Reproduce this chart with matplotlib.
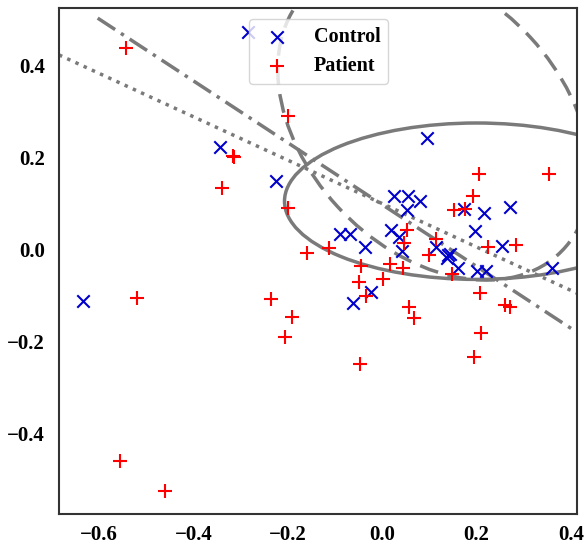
import numpy as np
import matplotlib
matplotlib.use("Agg")
import matplotlib.pyplot as plt
from matplotlib.patches import Ellipse

control_x = [-0.285, -0.344, -0.224, 0.094, -0.634, 0.026, 0.054, 0.080, 0.052, -0.090,
             -0.069, -0.037, 0.018, 0.035, 0.043, 0.115, 0.139, 0.143, 0.137, 0.160,
             0.200, 0.221, 0.173, 0.215, 0.270, 0.196, 0.255, 0.361, -0.024, -0.062]
control_y = [0.472, 0.222, 0.148, 0.241, -0.113, 0.115, 0.115, 0.104, 0.085, 0.033,
             0.033, 0.004, 0.041, 0.026, -0.004, 0.004, -0.013, -0.011, -0.020, -0.041,
             -0.048, -0.048, 0.087, 0.078, 0.091, 0.039, 0.007, -0.041, -0.093, -0.117]
patient_x = [-0.543, -0.200, -0.317, -0.313, -0.340, -0.200, -0.160, -0.113, 0.205, 0.353,
             0.192, 0.152, 0.175, 0.052, 0.047, 0.115, 0.099, 0.225, 0.283, -0.044,
             0.016, 0.044, -0.050, 0.001, -0.035, 0.147, 0.207, 0.056, 0.067, 0.260,
             0.270, 0.209, 0.194, -0.048, -0.520, -0.236, -0.192, -0.207, -0.556, -0.461]
patient_y = [0.437, 0.289, 0.202, 0.200, 0.133, 0.089, -0.009, 0.002, 0.163, 0.163,
             0.115, 0.085, 0.087, 0.041, 0.013, 0.022, -0.013, 0.004, 0.009, -0.037,
             -0.033, -0.041, -0.072, -0.065, -0.102, -0.054, -0.096, -0.126, -0.150, -0.122,
             -0.126, -0.183, -0.235, -0.250, -0.107, -0.109, -0.148, -0.191, -0.461, -0.526]

# boundary curves
solid_center = (0.200, 0.104)
solid_width, solid_height, solid_angle = 0.814, 0.340, 0.0
dashed_center = (0.110, 0.276)
dashed_width, dashed_height, dashed_angle = 0.550, 0.780, 41.9
dotted_x = [-0.685, 0.413]
dotted_y = [0.422, -0.096]
dashdot_x = [-0.603, 0.413]
dashdot_y = [0.502, -0.181]

xticks = [-0.6, -0.4, -0.2, 0.0, 0.2, 0.4]
yticks = [-0.4, -0.2, 0.0, 0.2, 0.4]

plt.rcParams['font.family'] = ['Liberation Serif', 'DejaVu Serif']
plt.rcParams['font.weight'] = 'bold'
fig = plt.figure(figsize=(5.85, 5.45), dpi=100)
ax = fig.add_axes([59/585, 1-514/545, (577-59)/585, (514-8)/545])

line_col = '#7a7a7a'
ax.add_patch(Ellipse(solid_center, solid_width, solid_height, angle=solid_angle,
                     fill=False, edgecolor=line_col, lw=2.5, zorder=2))
ax.add_patch(Ellipse(dashed_center, dashed_width, dashed_height, angle=dashed_angle,
                     fill=False, edgecolor=line_col, lw=2.5, ls=(0, (5.5, 2.8)), zorder=2))
ax.plot(dotted_x, dotted_y, color=line_col, lw=2.5, ls=(0, (1, 1.6)), zorder=2)
ax.plot(dashdot_x, dashdot_y, color=line_col, lw=2.5, ls=(0, (6, 2, 1, 2)), zorder=2)

ax.scatter(control_x, control_y, marker='x', color='#0000CD', s=80, linewidths=1.5,
           label='Control', zorder=3)
ax.scatter(patient_x, patient_y, marker='+', color='red', s=100, linewidths=1.5,
           label='Patient', zorder=3)

ax.set_xlim(-0.685, 0.413)
ax.set_ylim(-0.576, 0.524)
ax.set_xticks(xticks)
ax.set_yticks(yticks)
ax.set_xticklabels([f"{t:.1f}".replace('-', '\u2212') for t in xticks])
ax.set_yticklabels([f"{t:.1f}".replace('-', '\u2212') for t in yticks])
ax.tick_params(axis='x', length=0, pad=8, labelsize=15)
ax.tick_params(axis='y', length=0, pad=10, labelsize=15)
for s in ax.spines.values():
    s.set_edgecolor('#333333')
    s.set_linewidth(1.5)
leg = ax.legend(loc='upper center', bbox_to_anchor=(0.501, 1.0), fontsize=14.5,
                borderpad=0.4, labelspacing=0.45, handletextpad=0.83,
                handlelength=2.0, borderaxespad=0.55)
leg.set_zorder(5)
fig.savefig('out.png', dpi=100)
